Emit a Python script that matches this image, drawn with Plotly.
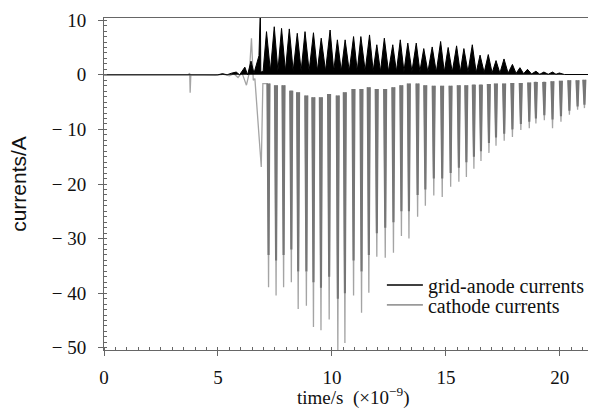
import plotly.graph_objects as go

# ---------------- data ----------------
# grid-anode current: quiet start, then a periodic train of peaks
anode_pre_t = [0, 4.50, 4.80, 5.00, 5.20, 5.40, 5.60, 5.80, 5.95, 6.18, 6.30, 6.45, 6.58, 6.80, 6.86, 6.88, 6.98]
anode_pre_i = [0, 0, 0.1, 0, 0.2, 0, 0.3, 0.5, 0.0, 1.4, 0.0, 2.5, 0.3, 3.5, 12.0, 0.5, 0.6]
anode_peak_t = [7.13, 7.47, 7.79, 8.13, 8.48, 8.82, 9.19, 9.53, 9.92, 10.24,
                10.58, 10.95, 11.27, 11.65, 11.97, 12.30, 12.67, 13.00, 13.33, 13.70,
                14.03, 14.40, 14.77, 15.10, 15.47, 15.79, 16.16, 16.50, 16.86, 17.20,
                17.55, 17.92, 18.25, 18.58, 18.95, 19.30, 19.68, 19.98]
anode_peak_i = [7.9, 8.8, 8.5, 8.4, 7.6, 7.9, 7.7, 6.7, 8.2, 6.4,
                6.4, 7.0, 7.0, 7.3, 5.5, 6.7, 5.5, 6.4, 5.8, 5.8,
                4.8, 5.1, 6.1, 5.0, 5.3, 4.8, 5.5, 3.6, 3.7, 2.6,
                2.9, 1.9, 1.3, 1.0, 0.65, 0.5, 0.5, 0.33]
anode_trough_t = [7.30, 7.63, 7.96, 8.30, 8.65, 9.00, 9.36, 9.72, 10.08, 10.41,
                  10.76, 11.11, 11.46, 11.81, 12.13, 12.48, 12.83, 13.16, 13.51, 13.86,
                  14.21, 14.58, 14.93, 15.28, 15.63, 15.97, 16.33, 16.68, 17.03, 17.37,
                  17.73, 18.08, 18.41, 18.76, 19.12, 19.49, 19.83, 20.20, 21.90]
anode_trough_i = [0.7, 0.7, 0.7, 0.7, 0.7, 0.7, 0.7, 0.7, 0.7, 0.7,
                  0.7, 0.7, 0.7, 0.7, 0.6, 0.6, 0.6, 0.6, 0.6, 0.6,
                  0.5, 0.5, 0.5, 0.5, 0.5, 0.5, 0.4, 0.4, 0.35, 0.3,
                  0.3, 0.25, 0.2, 0.15, 0.1, 0.1, 0.1, 0.05, 0.05]

# cathode current: a small pre-pulse, then deep negative spikes
cathode_pre_t = [0, 3.70, 3.76, 3.78, 3.81, 4.60, 4.90, 5.20, 5.50, 5.70,
                 5.88, 6.05, 6.25, 6.38, 6.47, 6.55, 6.62, 6.85, 6.90, 6.97]
cathode_pre_i = [0, 0, 0.3, -3.3, 0, 0, -0.1, 0.1, -0.2, 0.2,
                 -0.5, 0.4, -1.9, 0.5, 6.7, -1.0, -0.7, -14.0, -16.9, -1.6]
# each spike: upper edge before, deepest point, upper edge after
cathode_min_t = [7.22, 7.55, 7.88, 8.22, 8.52, 8.88, 9.19, 9.52, 9.88, 10.26,
                 10.57, 10.95, 11.30, 11.62, 11.97, 12.34, 12.70, 13.05, 13.38, 13.76,
                 14.10, 14.47, 14.84, 15.21, 15.57, 15.90, 16.23, 16.54, 16.89, 17.20,
                 17.56, 17.92, 18.29, 18.66, 18.95, 19.32, 19.68, 20.05, 20.42, 20.78,
                 21.08, 21.44, 21.78]
cathode_min_i = [-38.9, -40.4, -38.9, -38.0, -42.9, -42.3, -46.2, -46.8, -44.8, -50.6,
                 -49.1, -40.4, -43.6, -39.9, -33.3, -33.5, -32.6, -29.5, -30.0, -26.0,
                 -24.0, -22.1, -22.4, -20.5, -19.6, -18.7, -17.2, -15.8, -14.3, -13.0,
                 -12.1, -11.4, -10.1, -9.8, -8.9, -8.3, -9.8, -8.6, -7.3, -6.4,
                 -6.1, -5.5, -5.5]
# depth of the darker, denser body of each spike
cathode_body_i = [-33.0, -34.0, -33.0, -32.0, -36.0, -36.0, -38.0, -39.0, -37.0, -41.0,
                  -40.0, -34.0, -36.0, -33.0, -29.0, -28.0, -27.0, -25.0, -25.0, -22.0,
                  -21.0, -19.0, -19.0, -18.0, -17.0, -16.0, -15.0, -14.0, -12.5, -11.5,
                  -10.8, -10.0, -9.0, -8.6, -8.0, -7.4, -8.2, -7.6, -6.6, -5.8,
                  -5.5, -5.0, -5.0]
cathode_lead_t = [7.17, 7.50, 7.83, 8.17, 8.47, 8.83, 9.14, 9.47, 9.83, 10.21,
                  10.52, 10.90, 11.25, 11.57, 11.92, 12.29, 12.65, 13.00, 13.33, 13.71,
                  14.05, 14.42, 14.79, 15.16, 15.52, 15.85, 16.18, 16.49, 16.84, 17.15,
                  17.51, 17.87, 18.24, 18.61, 18.90, 19.27, 19.63, 20.00, 20.37, 20.73,
                  21.03, 21.39, 21.73]
cathode_trail_t = [7.26, 7.59, 7.92, 8.26, 8.56, 8.92, 9.23, 9.56, 9.92, 10.30,
                   10.61, 10.99, 11.34, 11.66, 12.01, 12.38, 12.74, 13.09, 13.42, 13.80,
                   14.14, 14.51, 14.88, 15.25, 15.61, 15.94, 16.27, 16.58, 16.93, 17.24,
                   17.60, 17.96, 18.33, 18.70, 18.99, 19.36, 19.72, 20.09, 20.46, 20.82,
                   21.12, 21.48, 21.82]
cathode_top_i = [-1.6, -1.9, -1.9, -2.9, -3.2, -3.8, -4.1, -4.1, -3.5, -3.8,
                 -3.2, -2.6, -2.6, -2.3, -2.6, -2.6, -2.3, -1.9, -1.6, -1.6,
                 -1.9, -2.0, -2.0, -2.0, -1.9, -1.9, -1.8, -1.8, -1.7, -1.6,
                 -1.6, -1.5, -1.5, -1.4, -1.3, -1.3, -1.2, -1.1, -1.0, -1.0,
                 -0.9, -0.9, -1.0]
# instants between spikes where the trace is not distinguishable (no stroke drawn)
cathode_gap_t = [7.39, 7.72, 8.05, 8.37, 8.70, 9.03, 9.35, 9.70, 10.07, 10.41,
                 10.76, 11.12, 11.46, 11.80, 12.15, 12.52, 12.87, 13.21, 13.57, 13.93,
                 14.28, 14.65, 15.02, 15.39, 15.73, 16.06, 16.38, 16.71, 17.04, 17.38,
                 17.74, 18.10, 18.47, 18.80, 19.13, 19.50, 19.86, 20.23, 20.60, 20.93,
                 21.26, 21.61]

x_ticks = [0, 5, 10, 15, 20]
y_ticks = [-50, -40, -30, -20, -10, 0, 10]
y_tick_text = ["\u2212 50", "\u2212 40", "\u2212 30", "\u2212 20", "\u2212 10", "0", "10"]


def merge(*pairs):
    pts = []
    for t, v in pairs:
        pts.extend(zip(t, v))
    pts.sort(key=lambda p: p[0])
    return [p[0] for p in pts], [p[1] for p in pts]


gaps = [None] * len(cathode_gap_t)
anode_t, anode_i = merge((anode_pre_t, anode_pre_i), (anode_peak_t, anode_peak_i),
                         (anode_trough_t, anode_trough_i))
cath_t, cath_i = merge((cathode_pre_t, cathode_pre_i), (cathode_min_t, cathode_min_i),
                       (cathode_lead_t, cathode_top_i), (cathode_trail_t, cathode_top_i),
                       (cathode_gap_t, gaps))
body_t, body_i = merge((cathode_min_t, cathode_body_i),
                       (cathode_lead_t, cathode_top_i), (cathode_trail_t, cathode_top_i),
                       (cathode_gap_t, gaps))

SERIF = "Liberation Serif, Times New Roman, serif"
GRAY_TIP = "#a4a4a4"
GRAY_BODY = "#767676"

fig = go.Figure()
fig.add_trace(go.Scatter(x=cath_t, y=cath_i, mode="lines", showlegend=False,
                         line=dict(color=GRAY_TIP, width=1.3), hoverinfo="skip"))
fig.add_trace(go.Scatter(x=body_t, y=body_i, mode="lines", showlegend=False,
                         line=dict(color=GRAY_BODY, width=2.1), hoverinfo="skip"))
fig.add_trace(go.Scatter(x=anode_t, y=anode_i, mode="lines", showlegend=False,
                         line=dict(color="#000000", width=1.0), fill="tozeroy",
                         fillcolor="#000000", hoverinfo="skip"))
# legend entries
fig.add_trace(go.Scatter(x=[None], y=[None], mode="lines", name="grid-anode currents",
                         line=dict(color="#000000", width=1.6), legend="legend"))
fig.add_trace(go.Scatter(x=[None], y=[None], mode="lines", name="cathode currents",
                         line=dict(color="#9a9a9a", width=1.6), legend="legend2"))

axis_common = dict(showline=True, linecolor="#666666", linewidth=1, mirror=True,
                   showgrid=False, zeroline=False, ticks="outside", ticklen=5,
                   tickcolor="#666666", tickwidth=1,
                   tickfont=dict(family=SERIF, size=19, color="#111111"))

fig.update_xaxes(range=[0, 21.85], tickvals=x_ticks, ticklabelstandoff=5,
                 minor=dict(ticks="inside", ticklen=3, dtick=0.5, tickcolor="#666666"),
                 **axis_common)
fig.update_yaxes(range=[-50.4, 10.4], tickvals=y_ticks, ticktext=y_tick_text,
                 ticklabelstandoff=8,
                 minor=dict(ticks="inside", ticklen=3, dtick=1, tickcolor="#666666"),
                 **axis_common)

legend_style = dict(xanchor="left", yanchor="middle", bgcolor="rgba(0,0,0,0)",
                    borderwidth=0, itemwidth=36,
                    font=dict(family=SERIF, size=20, color="#111111"))

fig.update_layout(
    width=596, height=408,
    margin=dict(l=96, r=2, t=10, b=66),
    paper_bgcolor="white", plot_bgcolor="white",
    showlegend=True,
    legend=dict(x=0.558, y=0.196, **legend_style),
    legend2=dict(x=0.558, y=0.136, **legend_style),
    annotations=[
        dict(text="currents/A", textangle=-90, xref="paper", yref="paper",
             x=-0.173, y=0.5, xanchor="center", yanchor="middle", showarrow=False,
             font=dict(family="Liberation Sans, Arial, sans-serif", size=21, color="#111111")),
        dict(text="time/s\u00a0\u00a0(\u00d710<sup>\u22129</sup>)", xref="paper", yref="paper",
             x=0.5, y=-0.14, xanchor="center", yanchor="middle", showarrow=False,
             font=dict(family=SERIF, size=19, color="#111111")),
    ],
)

fig.write_html("out.html")
